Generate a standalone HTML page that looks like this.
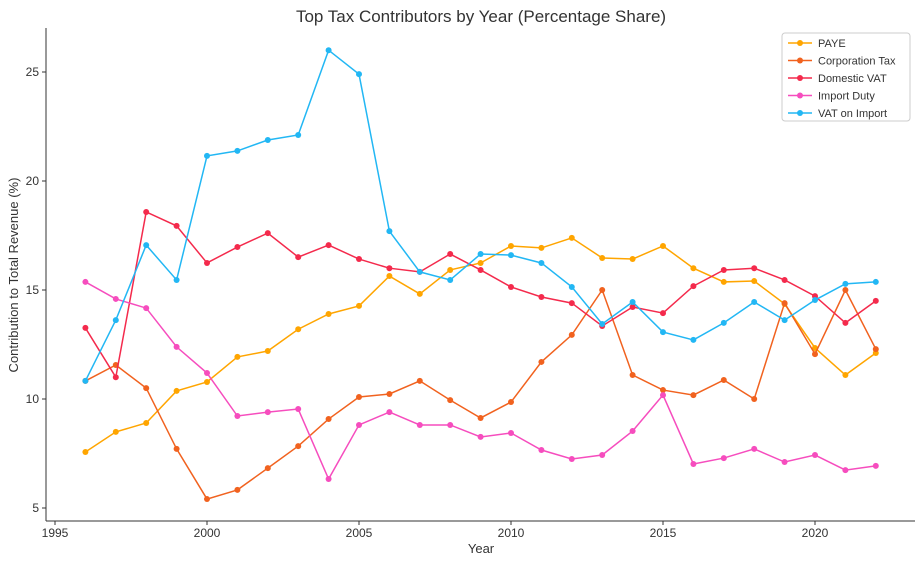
<!DOCTYPE html>
<html><head><meta charset="utf-8"><style>
body{margin:0;background:#fff;}
svg{display:block;font-family:"Liberation Sans","DejaVu Sans",sans-serif;}
</style></head><body>
<svg id="chart" width="924" height="564">
<text x="481" y="22" text-anchor="middle" font-size="17" fill="#333">Top Tax Contributors by Year (Percentage Share)</text>
<g id="axes"></g>
<g id="series"></g>
<g id="legend"></g>
</svg>
<script>
const years=[1996,1997,1998,1999,2000,2001,2002,2003,2004,2005,2006,2007,2008,2009,2010,2011,2012,2013,2014,2015,2016,2017,2018,2019,2020,2021,2022];
const paye=[7.57,8.49,8.9,10.37,10.78,11.93,12.2,13.2,13.9,14.27,15.64,14.82,15.92,16.24,17.02,16.93,17.39,16.47,16.42,17.02,16.0,15.37,15.41,14.36,12.34,11.1,12.11];
const corpTax=[10.83,11.56,10.5,7.71,5.41,5.83,6.83,7.84,9.08,10.09,10.23,10.83,9.95,9.13,9.86,11.7,12.94,15.0,11.1,10.41,10.18,10.87,10.0,14.4,12.06,15.0,12.29];
const domesticVat=[13.26,11.0,18.58,17.94,16.24,16.97,17.61,16.51,17.06,16.42,16.0,15.83,16.65,15.92,15.14,14.68,14.4,13.35,14.22,13.94,15.18,15.92,16.0,15.46,14.72,13.49,14.5];
const importDuty=[15.37,14.59,14.17,12.39,11.19,9.22,9.4,9.54,6.33,8.81,9.4,8.81,8.81,8.26,8.44,7.66,7.25,7.43,8.53,10.18,7.02,7.29,7.71,7.11,7.43,6.74,6.93];
const vatImport=[10.83,13.62,17.06,15.46,21.15,21.38,21.88,22.11,26.0,24.9,17.7,15.83,15.46,16.65,16.6,16.24,15.14,13.44,14.45,13.07,12.71,13.49,14.45,13.62,14.54,15.28,15.37];
const xTicks=[1995,2000,2005,2010,2015,2020];
const yTicks=[5,10,15,20,25];
const seriesNames=["PAYE","Corporation Tax","Domestic VAT","Import Duty","VAT on Import"];
const seriesData=[paye,corpTax,domesticVat,importDuty,vatImport];
const colors=["#FFA500","#F1621F","#F42A4C","#F64DBE","#22B7F4"];

const NS="http://www.w3.org/2000/svg";
const L=46,R=915,T=28,B=521;
const x=v=>55+(v-1995)*30.4;
const y=v=>508-(v-5)*21.8;
function mk(tag,attrs,parent){const e=document.createElementNS(NS,tag);for(const k in attrs)e.setAttribute(k,attrs[k]);parent.appendChild(e);return e;}
const ax=document.getElementById('axes');
let e=mk('line',{x1:L,y1:B,x2:R,y2:B,stroke:'#333','stroke-width':1},ax);


e=mk('line',{x1:L,y1:T,x2:L,y2:B,stroke:'#333','stroke-width':1},ax);


xTicks.forEach(t=>{
  mk('line',{x1:x(t),y1:B,x2:x(t),y2:B+4,stroke:'#333'},ax);
  const tx=mk('text',{x:x(t),y:B+16,'text-anchor':'middle','font-size':12,fill:'#333'},ax);
  tx.textContent=t;
  
  
});
yTicks.forEach(t=>{
  mk('line',{x1:L-4,y1:y(t),x2:L,y2:y(t),stroke:'#333'},ax);
  const tx=mk('text',{x:L-7,y:y(t)+4,'text-anchor':'end','font-size':12,fill:'#333'},ax);
  tx.textContent=t;
  
  
});
e=mk('text',{x:481,y:553,'text-anchor':'middle','font-size':13,fill:'#333'},ax);
e.textContent='Year';


e=mk('text',{x:18,y:275,'text-anchor':'middle','font-size':13,fill:'#333',transform:'rotate(-90 18 275)'},ax);
e.textContent='Contribution to Total Revenue (%)';



const sg=document.getElementById('series');
seriesData.forEach((d,i)=>{
  const g=mk('g',{},sg);
  
  
  const pl=mk('polyline',{points:d.map((v,j)=>x(years[j])+','+y(v)).join(' '),fill:'none',stroke:colors[i],'stroke-width':1.5},g);
  
  
  d.forEach((v,j)=>{
    const c=mk('circle',{cx:x(years[j]),cy:y(v),r:3,fill:colors[i]},g);
    
    
  });
});

const lg=document.getElementById('legend');
const box=mk('rect',{x:782,y:33,width:128,height:88,rx:3,fill:'#fff',stroke:'#ccc'},lg);


seriesNames.forEach((n,i)=>{
  const yy=43+i*17.5;
  const g=mk('g',{},lg);
  
  
  mk('line',{x1:788,y1:yy,x2:812,y2:yy,stroke:colors[i],'stroke-width':1.5},g);
  mk('circle',{cx:800,cy:yy,r:3,fill:colors[i]},g);
  const t=mk('text',{x:818,y:yy+4,'font-size':11,fill:'#333'},g);
  t.textContent=n;
});
</script>
</body></html>
